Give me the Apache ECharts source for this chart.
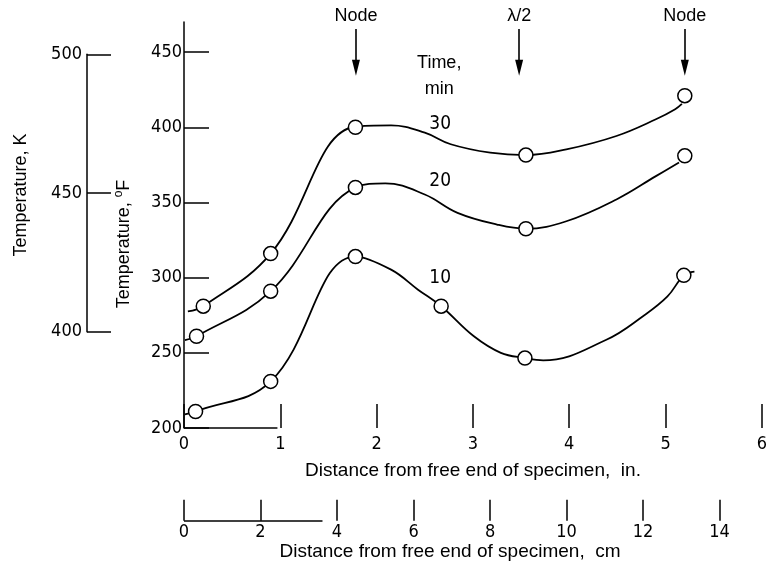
<!DOCTYPE html>
<html><head><meta charset="utf-8">
<script src="https://cdn.jsdelivr.net/npm/echarts@6/dist/echarts.min.js"></script>
<style>html,body{margin:0;padding:0;background:#fff}#c{width:770px;height:576px}</style>
</head><body><div id="c"></div>
<script>
// ---- tick labels ----
const xTicksIn = [0, 1, 2, 3, 4, 5, 6];
const xTicksCm = [0, 2, 4, 6, 8, 10, 12, 14];
const yTicksF = [200, 250, 300, 350, 400, 450];
const yTicksK = [400, 450, 500];

// ---- measured points (distance in., temperature °F) ----
const x30 = [0.20, 0.90, 1.78, 3.55, 5.20];
const y30 = [281, 316, 400, 381.5, 421];
const x20 = [0.13, 0.90, 1.78, 3.55, 5.20];
const y20 = [261, 291, 360, 332.5, 381];
const x10 = [0.12, 0.90, 1.78, 2.67, 3.54, 5.19];
const y10 = [211, 231, 314, 281, 246.5, 301.5];

// ---- faired curves ----
const cx30 = [0.04, 0.20, 0.90, 1.78, 2.15, 2.50, 2.77, 3.18, 3.55, 3.97, 4.49, 4.90, 5.10, 5.17];
const cy30 = [277.5, 281, 316, 400.5, 401.3, 396.4, 388.7, 383.1, 381.5, 385.3, 394.2, 405.3, 412, 415.5];
const cx20 = [0.01, 0.13, 0.90, 1.78, 2.09, 2.50, 2.84, 3.25, 3.55, 3.97, 4.49, 4.90, 5.14];
const cy20 = [258.5, 261, 291, 360, 362.7, 355.3, 343.1, 335.3, 332.5, 337.5, 352, 367.5, 376.5];
const cx10 = [0.01, 0.12, 0.90, 1.78, 2.15, 2.43, 2.67, 3.01, 3.29, 3.54, 3.73, 4.38, 4.78, 5.02, 5.19, 5.30];
const cy10 = [209, 211, 231, 314, 305.3, 292, 281, 261, 250, 246.5, 245, 258.5, 275, 287.5, 301.5, 304];

// ---- annotations ----
const arrowX = [1.785, 3.48, 5.20];
const arrowText = ['Node', 'λ/2', 'Node'];
const arrowTop = 465.3, arrowHead = 439.5;
const curveLabelX = [2.66, 2.66, 2.66];
const curveLabelY = [402, 364.2, 299.8];
const curveLabelText = ['30', '20', '10'];
const timeLabelX = [2.65, 2.65];
const timeLabelY = [442.7, 425.5];
const timeLabelText = ['Time,', 'min'];
const inAxisSeg = [0, 0.97];
const cmAxisSeg = [0, 3.62];

const zip = (a, b) => a.map((v, i) => [v, b[i]]);
const NUM = "'Liberation Sans Narrow','DejaVu Sans Condensed',sans-serif";
const TXT = "'Liberation Sans','Arial',sans-serif";
const BLACK = '#000';
const NUMSIZE = 18;

const chart = echarts.init(document.getElementById('c'), null, {renderer: 'canvas'});

const curve = (xs, ys) => ({
  type: 'line', xAxisIndex: 0, yAxisIndex: 0, data: zip(xs, ys),
  smooth: 0.4, showSymbol: false, symbol: 'none',
  lineStyle: {color: BLACK, width: 1.8}, z: 2, silent: true
});
const pts = (xs, ys) => ({
  type: 'scatter', xAxisIndex: 0, yAxisIndex: 0, data: zip(xs, ys),
  symbol: 'circle', symbolSize: 14,
  itemStyle: {color: '#fff', borderColor: BLACK, borderWidth: 1.5, opacity: 1},
  z: 3, silent: true
});
const textSeries = (xs, ys, names, font, size) => ({
  type: 'scatter', xAxisIndex: 0, yAxisIndex: 0, clip: false, silent: true,
  symbolSize: 0, itemStyle: {opacity: 1, color: BLACK},
  data: xs.map((x, i) => ({value: [x, ys[i]], name: names[i]})),
  label: {show: true, position: 'inside', formatter: '{b}', color: BLACK, opacity: 1, fontFamily: font, fontSize: size}
});

const option = {
  animation: false,
  backgroundColor: '#fff',
  grid: [
    {left: 184, right: 3, top: 22, bottom: 148},
    {left: 184, right: 3, top: 480, bottom: 55.3},
    {left: 87, width: 40, top: 54.3, height: 277.4}
  ],
  xAxis: [
    {type: 'value', gridIndex: 0, min: 0, max: 6, interval: 1,
     axisLine: {show: false},
     axisTick: {show: true, inside: true, length: 24, customValues: xTicksIn, lineStyle: {color: BLACK, width: 1.5}},
     axisLabel: {margin: 7, color: BLACK, fontFamily: NUM, fontSize: NUMSIZE, customValues: xTicksIn},
     splitLine: {show: false}},
    {type: 'value', gridIndex: 1, min: 0, max: 15.24,
     axisLine: {show: false},
     axisTick: {show: true, inside: true, length: 21, customValues: xTicksCm, lineStyle: {color: BLACK, width: 1.5}},
     axisLabel: {margin: 3, color: BLACK, fontFamily: NUM, fontSize: NUMSIZE, customValues: xTicksCm},
     splitLine: {show: false}},
    {type: 'value', gridIndex: 2, show: false, min: 0, max: 1}
  ],
  yAxis: [
    {type: 'value', gridIndex: 0, min: 200, max: 470,
     axisLine: {show: true, lineStyle: {color: BLACK, width: 1.5}},
     axisTick: {show: true, inside: true, length: 25, customValues: yTicksF, lineStyle: {color: BLACK, width: 1.5}},
     axisLabel: {margin: 2, color: BLACK, fontFamily: NUM, fontSize: NUMSIZE, customValues: yTicksF},
     splitLine: {show: false}},
    {type: 'value', gridIndex: 1, show: false, min: 0, max: 1},
    {type: 'value', gridIndex: 2, min: 400, max: 500, interval: 50,
     axisLine: {show: true, lineStyle: {color: BLACK, width: 1.5}},
     axisTick: {show: true, inside: true, length: 24, customValues: yTicksK, lineStyle: {color: BLACK, width: 1.5}},
     axisLabel: {margin: 5, color: BLACK, fontFamily: NUM, fontSize: NUMSIZE, customValues: yTicksK},
     splitLine: {show: false}}
  ],
  series: [
    curve(cx30, cy30), curve(cx20, cy20), curve(cx10, cy10),
    pts(x30, y30), pts(x20, y20), pts(x10, y10),
    textSeries(curveLabelX, curveLabelY, curveLabelText, NUM, NUMSIZE + 1),
    textSeries(timeLabelX, timeLabelY, timeLabelText, TXT, 18),
    // arrow heads
    {type: 'scatter', xAxisIndex: 0, yAxisIndex: 0, clip: false, silent: true,
     data: arrowX.map(x => [x, arrowHead]),
     symbol: 'triangle', symbolRotate: 180, symbolSize: [8, 16],
     itemStyle: {color: BLACK, opacity: 1}, z: 4},
    // arrow shafts + labels
    {type: 'line', xAxisIndex: 0, yAxisIndex: 0, data: [], silent: true,
     markLine: {silent: true, animation: false,
       symbol: ['none', 'none'],
       lineStyle: {color: BLACK, width: 1.6, type: 'solid'},
       label: {show: true, position: 'start', distance: 4, formatter: '{b}', color: BLACK, fontFamily: TXT, fontSize: 18},
       data: arrowX.map((x, i) => [{coord: [x, arrowTop], name: arrowText[i]}, {coord: [x, arrowHead]}])
     }},
    {type: 'line', xAxisIndex: 0, yAxisIndex: 0, data: [], silent: true,
     markLine: {silent: true, animation: false, symbol: ['none', 'none'],
       lineStyle: {color: BLACK, width: 1.5, type: 'solid'}, label: {show: false},
       data: [[{coord: [inAxisSeg[0], 200]}, {coord: [inAxisSeg[1], 200]}]]}},
    {type: 'line', xAxisIndex: 1, yAxisIndex: 1, data: [], silent: true,
     markLine: {silent: true, animation: false, symbol: ['none', 'none'],
       lineStyle: {color: BLACK, width: 1.5, type: 'solid'}, label: {show: false},
       data: [[{coord: [cmAxisSeg[0], 0]}, {coord: [cmAxisSeg[1], 0]}]]}}
  ],
  graphic: [
    {type: 'text', x: 473, y: 471, silent: true,
     style: {text: 'Distance from free end of specimen,  in.', fontFamily: TXT, fontSize: 19, fill: BLACK,
             align: 'center', verticalAlign: 'middle', textAlign: 'center', textVerticalAlign: 'middle'}},
    {type: 'text', x: 450, y: 552, silent: true,
     style: {text: 'Distance from free end of specimen,  cm', fontFamily: TXT, fontSize: 19, fill: BLACK,
             align: 'center', verticalAlign: 'middle', textAlign: 'center', textVerticalAlign: 'middle'}},
    {type: 'text', x: 124, y: 244, rotation: Math.PI / 2, silent: true,
     style: {text: 'Temperature, {s|o}F', fontFamily: TXT, fontSize: 18, fill: BLACK, lineHeight: 22,
             align: 'center', verticalAlign: 'middle', textAlign: 'center', textVerticalAlign: 'middle',
             rich: {s: {fontFamily: TXT, fontSize: 12, verticalAlign: 'top', lineHeight: 22, fill: BLACK}}}},
    {type: 'text', x: 21, y: 195, rotation: Math.PI / 2, silent: true,
     style: {text: 'Temperature, K', fontFamily: TXT, fontSize: 18, fill: BLACK,
             align: 'center', verticalAlign: 'middle', textAlign: 'center', textVerticalAlign: 'middle'}}
  ]
};
chart.setOption(option);
</script></body></html>
